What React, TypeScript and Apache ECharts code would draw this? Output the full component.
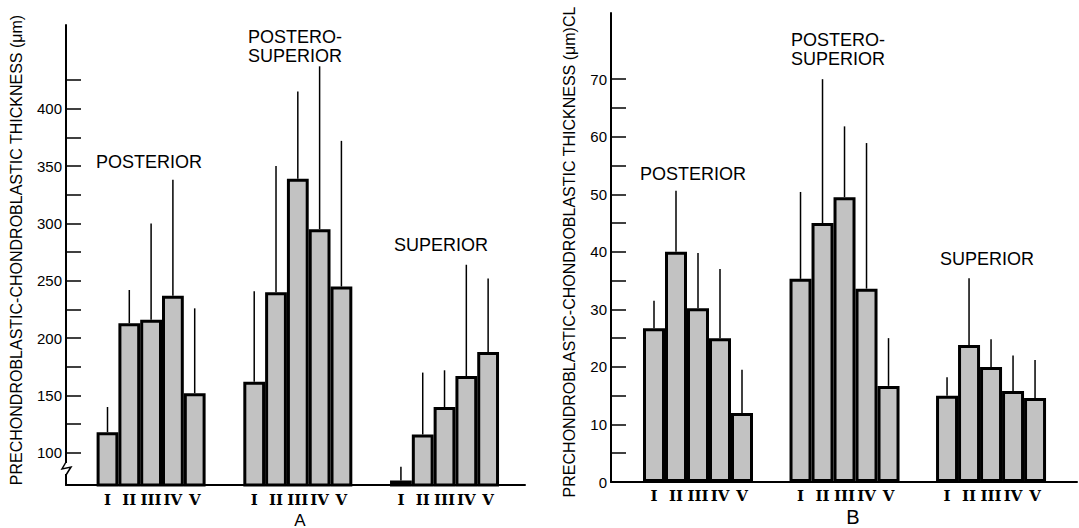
import React, { useEffect, useRef } from 'react';
import * as echarts from 'echarts';

// ---------- data ----------
const romanLabels = ['I', 'II', 'III', 'IV', 'V'];
const groupNames = ['POSTERIOR', 'POSTERO-\nSUPERIOR', 'SUPERIOR'];

// Panel A (µm)
const posteriorMeanA = [118, 213, 216, 237, 152];
const posteriorErrA = [140, 242, 300, 338, 226];
const posteroSupMeanA = [162, 240, 339, 295, 245];
const posteroSupErrA = [241, 350, 415, 437, 372];
const superiorMeanA = [76, 116, 140, 167, 188];
const superiorErrA = [88, 170, 172, 264, 252];

// Panel B (µm CL)
const posteriorMeanB = [26.7, 40, 30.2, 25, 12];
const posteriorErrB = [31.5, 50.6, 39.8, 37, 19.5];
const posteroSupMeanB = [35.3, 45, 49.5, 33.6, 16.7];
const posteroSupErrB = [50.4, 70, 61.8, 58.9, 25];
const superiorMeanB = [15, 23.8, 20, 15.8, 14.6];
const superiorErrB = [18.2, 35.4, 24.8, 22, 21.2];

const ticksA = [100, 125, 150, 175, 200, 225, 250, 275, 300, 325, 350, 375, 400, 425];
const labelsA = [100, 150, 200, 250, 300, 350, 400];
const ticksB = [0, 5, 10, 15, 20, 25, 30, 35, 40, 45, 50, 55, 60, 65, 70];
const labelsB = [0, 10, 20, 30, 40, 50, 60, 70];

const titleA = 'PRECHONDROBLASTIC-CHONDROBLASTIC THICKNESS (\u03bcm)';
const titleB = 'PRECHONDROBLASTIC-CHONDROBLASTIC THICKNESS (\u03bcm)CL';

// ---------- layout ----------
const FILL = '#c2c2c2';
const SANS = '"Liberation Sans", Arial, sans-serif';
const SERIF = '"DejaVu Serif", serif';

function buildPanel(means: number[][], errs: number[][], stride: number) {
  const bars: number[][] = [];
  const errors: number[][] = [];
  means.forEach((grp, g) => {
    grp.forEach((v, i) => {
      const x = g * stride + i;
      bars.push([x, v]);
      errors.push([x, v, errs[g][i]]);
    });
  });
  return { bars, errors };
}

export default function App() {
  const ref = useRef<HTMLDivElement>(null);

  useEffect(() => {
    if (!ref.current) return;
    const chart = echarts.init(ref.current, undefined, { renderer: 'svg' });

    const A = buildPanel(
      [posteriorMeanA, posteroSupMeanA, superiorMeanA],
      [posteriorErrA, posteroSupErrA, superiorErrA],
      6.73
    );
    const B = buildPanel(
      [posteriorMeanB, posteroSupMeanB, superiorMeanB],
      [posteriorErrB, posteroSupErrB, superiorErrB],
      6.66
    );

    const unitA = 21.8;
    const unitB = 22;
    const gridA = { left: 66, top: 25, width: 459, height: 460 };
    const gridB = { left: 611, top: 13, width: 466, height: 469 };
    const xMinA = -(107.5 - gridA.left) / unitA;
    const xMaxA = xMinA + gridA.width / unitA;
    const xMinB = -(654 - gridB.left) / unitB;
    const xMaxB = xMinB + gridB.width / unitB;

    const axisLine = { show: true, onZero: false, lineStyle: { color: '#000', width: 2 } };

    const xAxisCommon = (idx: number, min: number, max: number) => ({
      type: 'value',
      gridIndex: idx,
      min,
      max,
      axisLine,
      axisTick: { show: false },
      axisLabel: { show: false },
      splitLine: { show: false },
    });

    const yAxisCommon = (idx: number, min: number, max: number, ticks: number[], labels: number[]) => ({
      type: 'value',
      gridIndex: idx,
      min,
      max,
      axisLine,
      splitLine: { show: false },
      axisTick: {
        show: true,
        inside: true,
        length: 15,
        customValues: ticks,
        lineStyle: { color: '#000', width: 1.5 },
      },
      axisLabel: {
        show: true,
        customValues: labels,
        margin: 4,
        fontSize: 15,
        color: '#000',
        fontFamily: SANS,
      },
    });

    const barSeries = (idx: number, data: number[][], width: number) => ({
      type: 'bar',
      xAxisIndex: idx,
      yAxisIndex: idx,
      barWidth: width,
      data,
      itemStyle: { color: FILL, borderColor: '#000', borderWidth: 3 },
      label: {
        show: true,
        position: 'bottom',
        distance: 6,
        formatter: (p: any) => romanLabels[p.dataIndex % 5],
        fontFamily: SERIF,
        fontWeight: 'bold',
        fontSize: 15,
        color: '#000',
      },
      z: 2,
    });

    const errSeries = (idx: number, data: number[][]) => ({
      type: 'custom',
      xAxisIndex: idx,
      yAxisIndex: idx,
      data,
      encode: { x: 0, y: [1, 2] },
      renderItem: (params: any, api: any) => {
        const p1 = api.coord([api.value(0), api.value(1)]);
        const p2 = api.coord([api.value(0), api.value(2)]);
        return {
          type: 'line',
          shape: { x1: p1[0], y1: p1[1], x2: p2[0], y2: p2[1] },
          style: { stroke: '#000', lineWidth: 1.5 },
        };
      },
      z: 3,
    });

    const txt = (x: number, y: number, text: string, size: number, extra: any = {}) => ({
      type: 'text',
      x,
      y,
      z: 100,
      style: {
        text,
        fill: '#000',
        font: `${size}px ${SANS}`,
        align: 'center',
        verticalAlign: 'middle',
        lineHeight: 19,
        ...extra,
      },
    });

    chart.setOption({
      animation: false,
      backgroundColor: '#fff',
      grid: [
        { ...gridA, containLabel: false },
        { ...gridB, containLabel: false },
      ],
      xAxis: [xAxisCommon(0, xMinA, xMaxA), xAxisCommon(1, xMinB, xMaxB)],
      yAxis: [
        yAxisCommon(0, 72, 473, ticksA, labelsA),
        yAxisCommon(1, 0, 81.5, ticksB, labelsB),
      ],
      series: [
        barSeries(0, A.bars, unitA),
        errSeries(0, A.errors),
        barSeries(1, B.bars, unitB),
        errSeries(1, B.errors),
      ],
      graphic: [
        // axis titles
        { ...txt(16, 250, titleA, 16), rotation: Math.PI / 2 },
        { ...txt(569, 252, titleB, 16), rotation: Math.PI / 2 },
        // group labels A
        txt(149, 162, groupNames[0], 18),
        txt(295, 46, groupNames[1], 18),
        txt(441, 245, groupNames[2], 18),
        // group labels B
        txt(693, 174, groupNames[0], 18),
        txt(838, 49, groupNames[1], 18),
        txt(987, 259, groupNames[2], 18),
        // panel letters
        txt(300, 520, 'A', 17, { lineHeight: 16 }),
        txt(853, 517, 'B', 20, { lineHeight: 18 }),
        // axis break on panel A
        {
          type: 'rect',
          z: 100,
          shape: { x: 62, y: 463, width: 8, height: 11 },
          style: { fill: '#fff' },
        },
        {
          type: 'polyline',
          z: 101,
          shape: { points: [[66, 462], [62, 469], [71, 467], [66, 475]] },
          style: { stroke: '#000', lineWidth: 1.5, fill: 'none' },
        },
      ],
    });

    return () => chart.dispose();
  }, []);

  return (
    <div
      ref={ref}
      style={{ position: 'absolute', left: 0, top: 0, width: 1079, height: 528, background: '#fff' }}
    />
  );
}
